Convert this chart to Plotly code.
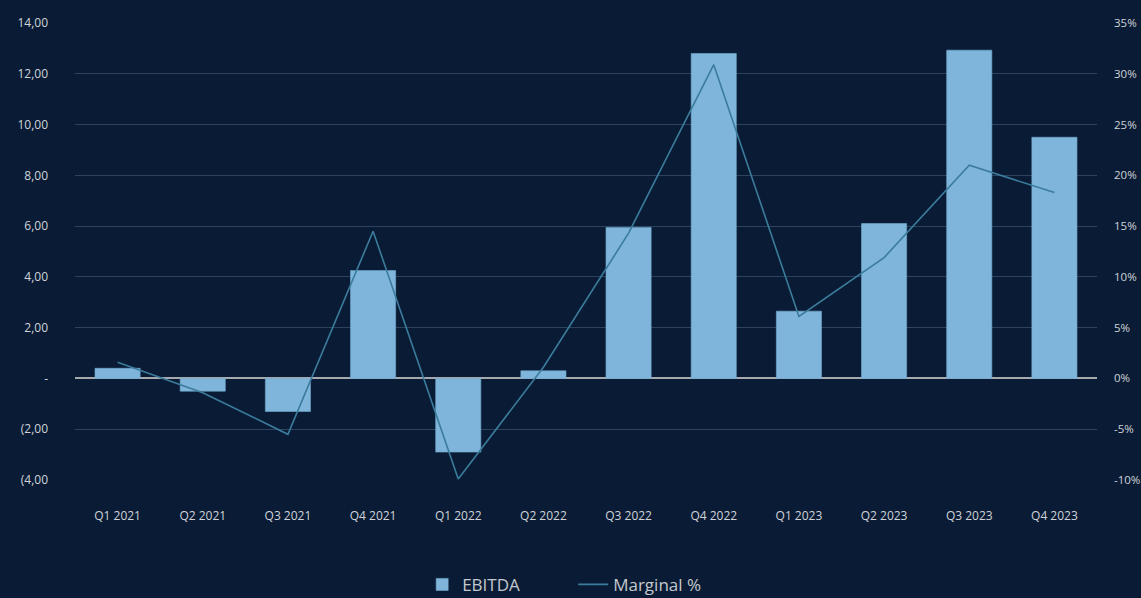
import plotly.graph_objects as go

quarters = ["Q1 2021", "Q2 2021", "Q3 2021", "Q4 2021", "Q1 2022", "Q2 2022",
            "Q3 2022", "Q4 2022", "Q1 2023", "Q2 2023", "Q3 2023", "Q4 2023"]
ebitda = [0.4, -0.5, -1.3, 4.25, -2.9, 0.3, 5.95, 12.8, 2.65, 6.1, 12.93, 9.5]
marginal_pct = [1.6, -1.4, -5.5, 14.5, -9.9, 1.1, 14.3, 30.9, 6.1, 11.9, 21.0, 18.3]

left_tickvals = [-4, -2, 0, 2, 4, 6, 8, 10, 12, 14]
left_ticktext = ["(4,00", "(2,00", "-", "2,00", "4,00", "6,00", "8,00", "10,00", "12,00", "14,00"]
right_tickvals = [-10, -5, 0, 5, 10, 15, 20, 25, 30, 35]
right_ticktext = ["-10%", "-5%", "0%", "5%", "10%", "15%", "20%", "25%", "30%", "35%"]

BG = "#0a1c35"
BAR = "#7fb5da"
LINE = "#3b7c9c"
GRID = "#2c4360"
TXT = "#cfd3d9"

fig = go.Figure()
fig.add_trace(go.Bar(
    x=quarters, y=ebitda, name="EBITDA",
    marker=dict(color=BAR, line=dict(color="#74abd2", width=0.6)),
    yaxis="y",
))
fig.add_trace(go.Scatter(
    x=quarters, y=marginal_pct, name="Marginal %", mode="lines",
    line=dict(color=LINE, width=1.6),
    yaxis="y2",
))

fig.update_layout(
    width=1141, height=598,
    paper_bgcolor=BG, plot_bgcolor=BG,
    margin=dict(l=75, r=44, t=23, b=118, autoexpand=False),
    bargap=0.47,
    font=dict(family="Open Sans", size=12, color=TXT),
    showlegend=True,
    legend=dict(
        orientation="h", xref="container", yref="container",
        x=0.37, xanchor="left", y=0.022, yanchor="middle",
        font=dict(size=17, color="#c4c8ce"),
        bgcolor="rgba(0,0,0,0)",
        entrywidth=106,
    ),
    xaxis=dict(
        showgrid=False, zeroline=False, showline=False, automargin=False,
        ticks="", ticklabelstandoff=27,
        tickfont=dict(size=12, color=TXT),
    ),
    yaxis=dict(
        range=[-4, 14], tickvals=left_tickvals, ticktext=left_ticktext,
        showgrid=True, gridcolor=GRID, gridwidth=1.2, automargin=False,
        zeroline=True, zerolinecolor="#a6a9ad", zerolinewidth=2,
        showline=False, ticks="", ticklabelstandoff=26,
        tickfont=dict(size=12, color=TXT),
    ),
    yaxis2=dict(
        range=[-10, 35], tickvals=right_tickvals, ticktext=right_ticktext,
        overlaying="y", side="right", automargin=False,
        showgrid=False, zeroline=False, showline=False,
        ticks="", ticklabelstandoff=16,
        tickfont=dict(size=11.5, color=TXT),
    ),
)

fig.write_html(
    "out.html",
    config={"displayModeBar": False},
    post_script="document.body.style.margin='0';document.body.style.background='%s';" % BG,
)
